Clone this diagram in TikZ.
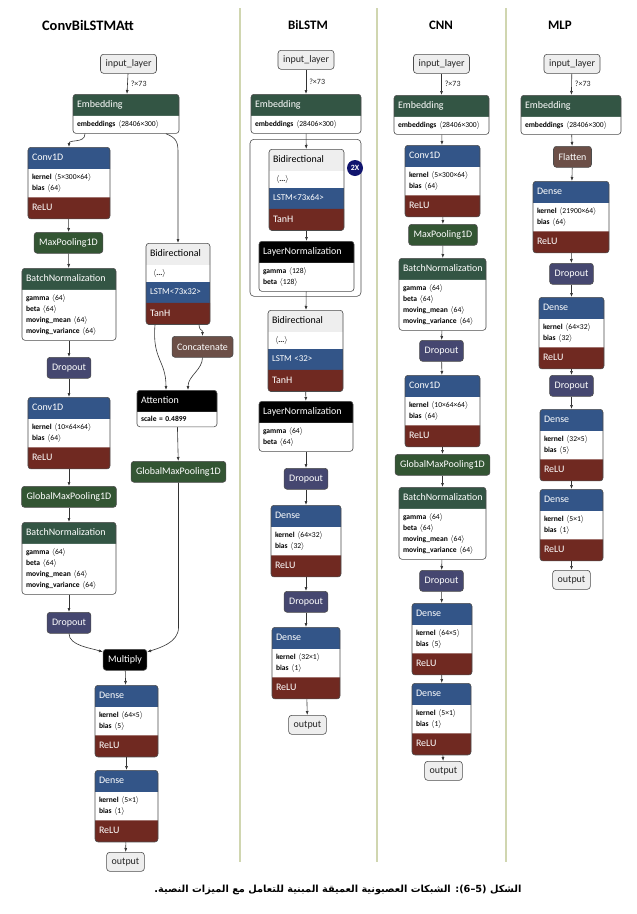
\documentclass[tikz,border=0pt]{standalone}
\usepackage{fontspec}
\setmainfont{Carlito}
\newfontfamily\arabicfont[Script=Arabic]{DejaVu Sans}
\TeXXeTstate=1
\usepackage{tikz}
\usetikzlibrary{positioning,shapes.multipart,arrows.meta}
\definecolor{layblue}{RGB}{51,85,136}
\definecolor{actred}{RGB}{112,41,33}
\definecolor{normgreen}{RGB}{51,85,68}
\definecolor{poolgreen}{RGB}{51,85,51}
\definecolor{dropviolet}{RGB}{69,71,112}
\definecolor{shapebrown}{RGB}{108,79,71}
\definecolor{iogray}{RGB}{238,238,238}
\definecolor{sepline}{RGB}{208,214,176}
\definecolor{badgeblue}{RGB}{16,20,110}
\tikzset{
  lay/.style={rectangle split, rectangle split parts=3, rectangle split draw splits=false,
              rectangle split part fill={#1,white,actred}, draw=black!70, line width=0.6bp,
              rounded corners=3bp, anchor=north, align=left, inner xsep=4bp, inner ysep=4.5bp,
              text=white, font=\fontsize{7.6}{11}\selectfont},
  lay2/.style={lay=#1, rectangle split parts=2},
  bid/.style={lay=iogray, rectangle split parts=4,
              rectangle split part fill={iogray,white,layblue,actred}},
  blk/.style={fill=#1, draw=black!70, line width=0.6bp, rounded corners=3bp, text=white,
              font=\normalsize, inner xsep=5bp, minimum height=21bp, anchor=north},
  io/.style={fill=iogray, draw=black!70, line width=0.6bp, rounded corners=3bp, text=black!85,
             font=\normalsize, inner xsep=5bp, minimum height=19bp, anchor=north},
  title/.style={font=\fontsize{13}{15}\selectfont\bfseries, text=black},
  badge/.style={circle, fill=badgeblue, text=white, font=\fontsize{8}{9}\selectfont\bfseries,
                inner sep=0pt, minimum size=16bp},
  lbl/.style={font=\fontsize{8}{9}\selectfont, text=black!85, inner sep=3bp},
  arr/.style={-{Latex[length=4bp,width=3bp]}, line width=0.6bp, draw=black!80},
  sep/.style={draw=sepline, line width=1.3bp}
}

\begin{document}
\begin{tikzpicture}[x=1bp, y=-1bp]
  \fill[white] (0,0) rectangle (637,914);
  \useasboundingbox (0,0) rectangle (637,914);

  % column separators and titles
  \foreach \x in {240,377,506} \draw[sep] (\x,8) -- (\x,862);
  \node[title, font=\fontsize{14.5}{16}\selectfont\bfseries] (t1) at (88,25) {ConvBiLSTMAtt};
  \node[title] (t2) at (308,25) {BiLSTM};
  \node[title] (t3) at (441,25) {CNN};
  \node[title] (t4) at (560,25) {MLP};

  % ConvBiLSTMAtt, convolution branch
  \node[io] (in1) at (128.5,54) {input\_layer};
  \node[lay2=normgreen, text width=98bp] (emb1) at (126,94)
    {\normalsize\strut Embedding\nodepart{two}\color{black}\textbf{embeddings} $\langle$28406×300$\rangle$};
  \node[lay=layblue, text width=74bp] (conv1) at (69,147)
    {\normalsize\strut Conv1D\nodepart{two}\color{black}\textbf{kernel} $\langle$5×300×64$\rangle$\\\textbf{bias} $\langle$64$\rangle$\nodepart{three}\normalsize\strut ReLU};
  \node[blk=poolgreen] (mp1) at (68.5,232) {MaxPooling1D};
  \node[lay2=normgreen, text width=86bp] (bn1) at (69,268)
    {\normalsize\strut BatchNormalization\nodepart{two}\color{black}\textbf{gamma} $\langle$64$\rangle$\\\textbf{beta} $\langle$64$\rangle$\\\textbf{moving\_mean} $\langle$64$\rangle$\\\textbf{moving\_variance} $\langle$64$\rangle$};
  \node[blk=dropviolet] (dr1) at (69,357) {Dropout};
  \node[lay=layblue, text width=74bp] (conv2) at (69,397)
    {\normalsize\strut Conv1D\nodepart{two}\color{black}\textbf{kernel} $\langle$10×64×64$\rangle$\\\textbf{bias} $\langle$64$\rangle$\nodepart{three}\normalsize\strut ReLU};
  \node[blk=poolgreen] (gmp1) at (69,486) {GlobalMaxPooling1D};
  \node[lay2=normgreen, text width=86bp] (bn2) at (69,522)
    {\normalsize\strut BatchNormalization\nodepart{two}\color{black}\textbf{gamma} $\langle$64$\rangle$\\\textbf{beta} $\langle$64$\rangle$\\\textbf{moving\_mean} $\langle$64$\rangle$\\\textbf{moving\_variance} $\langle$64$\rangle$};
  \node[blk=dropviolet] (dr2) at (69,612) {Dropout};
  \node[blk=black] (mul) at (125,649) {Multiply};
  \node[lay=layblue, text width=55bp] (d1) at (126.5,685)
    {\normalsize\strut Dense\nodepart{two}\color{black}\textbf{kernel} $\langle$64×5$\rangle$\\\textbf{bias} $\langle$5$\rangle$\nodepart{three}\normalsize\strut ReLU};
  \node[lay=layblue, text width=55bp] (d2) at (126.5,770)
    {\normalsize\strut Dense\nodepart{two}\color{black}\textbf{kernel} $\langle$5×1$\rangle$\\\textbf{bias} $\langle$1$\rangle$\nodepart{three}\normalsize\strut ReLU};
  \node[io] (out1) at (125.5,852) {output};

  % ConvBiLSTMAtt, attention branch
  \node[bid, text width=56bp] (bi1) at (178,243)
    {\normalsize\strut\color{black}Bidirectional\nodepart{two}\color{black}\hspace{3bp}$\langle$\textbf{...}$\rangle$\nodepart{three}\small\strut LSTM<73x32>\nodepart{four}\normalsize\strut TanH};
  \node[blk=shapebrown] (cat) at (202.5,336) {Concatenate};
  \node[lay2=black, text width=72bp] (att) at (177,390)
    {\normalsize\strut Attention\nodepart{two}\color{black}\textbf{scale = 0.4899}};
  \node[blk=poolgreen] (gmp2) at (178.5,461) {GlobalMaxPooling1D};

  % BiLSTM
  \node[io] (in2) at (306,50) {input\_layer};
  \node[lay2=normgreen, text width=102bp] (emb2) at (306,94)
    {\normalsize\strut Embedding\nodepart{two}\color{black}\textbf{embeddings} $\langle$28406×300$\rangle$};
  \node[draw=black!70, line width=0.6bp, rounded corners=4bp, minimum width=111bp,
        minimum height=157bp, anchor=north] (grp) at (305.5,139) {};
  \node[bid, text width=67bp] (bi2) at (306.5,149)
    {\normalsize\strut\color{black}Bidirectional\nodepart{two}\color{black}\hspace{3bp}$\langle$\textbf{...}$\rangle$\nodepart{three}\small\strut LSTM<73x64>\nodepart{four}\normalsize\strut TanH};
  \node[badge] (rep) at (355,168) {2X};
  \node[lay2=black, text width=87bp] (ln1) at (306.5,241)
    {\normalsize\strut LayerNormalization\nodepart{two}\color{black}\textbf{gamma} $\langle$128$\rangle$\\\textbf{beta} $\langle$128$\rangle$};
  \node[bid, text width=67bp] (bi3) at (305.5,310)
    {\normalsize\strut\color{black}Bidirectional\nodepart{two}\color{black}\hspace{3bp}$\langle$\textbf{...}$\rangle$\nodepart{three}\small\strut LSTM <32>\nodepart{four}\normalsize\strut TanH};
  \node[lay2=black, text width=86bp] (ln2) at (306,401)
    {\normalsize\strut LayerNormalization\nodepart{two}\color{black}\textbf{gamma} $\langle$64$\rangle$\\\textbf{beta} $\langle$64$\rangle$};
  \node[blk=dropviolet] (dr3) at (306,468) {Dropout};
  \node[lay=layblue, text width=62bp] (d3) at (306,505)
    {\normalsize\strut Dense\nodepart{two}\color{black}\textbf{kernel} $\langle$64×32$\rangle$\\\textbf{bias} $\langle$32$\rangle$\nodepart{three}\normalsize\strut ReLU};
  \node[blk=dropviolet] (dr4) at (306,591) {Dropout};
  \node[lay=layblue, text width=60bp] (d4) at (306,627)
    {\normalsize\strut Dense\nodepart{two}\color{black}\textbf{kernel} $\langle$32×1$\rangle$\\\textbf{bias} $\langle$1$\rangle$\nodepart{three}\normalsize\strut ReLU};
  \node[io] (out2) at (307.5,715) {output};

  % CNN
  \node[io] (in3) at (441.5,54) {input\_layer};
  \node[lay2=normgreen, text width=87bp] (emb3) at (441.5,95)
    {\normalsize\strut Embedding\nodepart{two}\color{black}\textbf{embeddings} $\langle$28406×300$\rangle$};
  \node[lay=layblue, text width=67bp] (conv3) at (442.5,145)
    {\normalsize\strut Conv1D\nodepart{two}\color{black}\textbf{kernel} $\langle$5×300×64$\rangle$\\\textbf{bias} $\langle$64$\rangle$\nodepart{three}\normalsize\strut ReLU};
  \node[blk=poolgreen] (mp2) at (443,224) {MaxPooling1D};
  \node[lay2=normgreen, text width=79bp] (bn3) at (442.5,258)
    {\normalsize\strut BatchNormalization\nodepart{two}\color{black}\textbf{gamma} $\langle$64$\rangle$\\\textbf{beta} $\langle$64$\rangle$\\\textbf{moving\_mean} $\langle$64$\rangle$\\\textbf{moving\_variance} $\langle$64$\rangle$};
  \node[blk=dropviolet] (dr5) at (441.5,340) {Dropout};
  \node[lay=layblue, text width=67bp] (conv4) at (442.5,375)
    {\normalsize\strut Conv1D\nodepart{two}\color{black}\textbf{kernel} $\langle$10×64×64$\rangle$\\\textbf{bias} $\langle$64$\rangle$\nodepart{three}\normalsize\strut ReLU};
  \node[blk=poolgreen] (gmp3) at (442.5,454) {GlobalMaxPooling1D};
  \node[lay2=normgreen, text width=79bp] (bn4) at (442.5,487)
    {\normalsize\strut BatchNormalization\nodepart{two}\color{black}\textbf{gamma} $\langle$64$\rangle$\\\textbf{beta} $\langle$64$\rangle$\\\textbf{moving\_mean} $\langle$64$\rangle$\\\textbf{moving\_variance} $\langle$64$\rangle$};
  \node[blk=dropviolet] (dr6) at (441.5,570) {Dropout};
  \node[lay=layblue, text width=52bp] (d5) at (442,603)
    {\normalsize\strut Dense\nodepart{two}\color{black}\textbf{kernel} $\langle$64×5$\rangle$\\\textbf{bias} $\langle$5$\rangle$\nodepart{three}\normalsize\strut ReLU};
  \node[lay=layblue, text width=51bp] (d6) at (441.5,683)
    {\normalsize\strut Dense\nodepart{two}\color{black}\textbf{kernel} $\langle$5×1$\rangle$\\\textbf{bias} $\langle$1$\rangle$\nodepart{three}\normalsize\strut ReLU};
  \node[io] (out3) at (443.5,761) {output};

  % MLP
  \node[io] (in4) at (572,54) {input\_layer};
  \node[lay2=normgreen, text width=92bp] (emb4) at (571,95)
    {\normalsize\strut Embedding\nodepart{two}\color{black}\textbf{embeddings} $\langle$28406×300$\rangle$};
  \node[blk=shapebrown] (fl) at (572.5,146) {Flatten};
  \node[lay=layblue, text width=68bp] (d7) at (571,181)
    {\normalsize\strut Dense\nodepart{two}\color{black}\textbf{kernel} $\langle$21900×64$\rangle$\\\textbf{bias} $\langle$64$\rangle$\nodepart{three}\normalsize\strut ReLU};
  \node[blk=dropviolet] (dr7) at (571.5,263) {Dropout};
  \node[lay=layblue, text width=57bp] (d8) at (571.5,297)
    {\normalsize\strut Dense\nodepart{two}\color{black}\textbf{kernel} $\langle$64×32$\rangle$\\\textbf{bias} $\langle$32$\rangle$\nodepart{three}\normalsize\strut ReLU};
  \node[blk=dropviolet] (dr8) at (571.5,375) {Dropout};
  \node[lay=layblue, text width=55bp] (d9) at (571.5,409)
    {\normalsize\strut Dense\nodepart{two}\color{black}\textbf{kernel} $\langle$32×5$\rangle$\\\textbf{bias} $\langle$5$\rangle$\nodepart{three}\normalsize\strut ReLU};
  \node[lay=layblue, text width=55bp] (d10) at (571.5,489)
    {\normalsize\strut Dense\nodepart{two}\color{black}\textbf{kernel} $\langle$5×1$\rangle$\\\textbf{bias} $\langle$1$\rangle$\nodepart{three}\normalsize\strut ReLU};
  \node[io] (out4) at (571.5,570) {output};

  % input edges
  \foreach \a/\b in {in1/emb1, in2/emb2, in3/emb3, in4/emb4}
    \draw[arr] (\a) -- node[lbl, right] {?×73} (\b);

  % straight edges
  \foreach \a/\b in {conv1/mp1, mp1/bn1, bn1/dr1, dr1/conv2, conv2/gmp1, gmp1/bn2, bn2/dr2,
                     mul/d1, d1/d2, d2/out1, att/gmp2,
                     emb2/bi2, bi2/ln1, ln1/bi3, bi3/ln2, ln2/dr3, dr3/d3, d3/dr4, dr4/d4, d4/out2,
                     emb3/conv3, conv3/mp2, mp2/bn3, bn3/dr5, dr5/conv4, conv4/gmp3, gmp3/bn4,
                     bn4/dr6, dr6/d5, d5/d6, d6/out3,
                     emb4/fl, fl/d7, d7/dr7, dr7/d8, d8/dr8, dr8/d9, d9/d10, d10/out4}
    \draw[arr] (\a) -- (\b);

  % curved edges of ConvBiLSTMAtt
  \draw[arr] ([xshift=-41bp]emb1.south) .. controls ([xshift=-41bp,yshift=-10bp]emb1.south)
    and ([yshift=8bp]conv1.north) .. (conv1.north);
  \draw[arr] ([xshift=40bp]emb1.south) .. controls ([xshift=50bp,yshift=-4bp]emb1.south)
    and ([xshift=52bp,yshift=-8bp]emb1.south) .. ([xshift=52bp,yshift=-18bp]emb1.south) -- (bi1.north);
  \draw[arr] ([xshift=-23bp]bi1.south) .. controls ([xshift=-26bp,yshift=-35bp]bi1.south)
    and ([xshift=-11bp,yshift=30bp]att.north) .. ([xshift=-11bp]att.north);
  \draw[arr] ([xshift=21bp]bi1.south) .. controls ([xshift=22bp,yshift=-8bp]bi1.south)
    and ([yshift=8bp]cat.north) .. (cat.north);
  \draw[arr] (cat.south) .. controls ([yshift=-12bp]cat.south)
    and ([xshift=11bp,yshift=14bp]att.north) .. ([xshift=11bp]att.north);
  \draw[arr] (dr2.south) .. controls ([yshift=-12bp]dr2.south)
    and ([xshift=-12bp,yshift=1bp]mul.north west) .. ([yshift=-3bp]mul.north west);
  \draw[arr] (gmp2.south) -- ([yshift=-145bp]gmp2.south) .. controls ([yshift=-160bp]gmp2.south)
    and ([xshift=12bp,yshift=1bp]mul.north east) .. ([yshift=-3bp]mul.north east);

  % caption
  \node[font=\arabicfont\bfseries\fontsize{9.8}{12}\selectfont] (cap) at (338,890)
    {\beginR الشكل \beginL(5–6)\endL: الشبكات العصبونية العميقة المبنية للتعامل مع الميزات النصية.\endR};
\end{tikzpicture}
\end{document}
